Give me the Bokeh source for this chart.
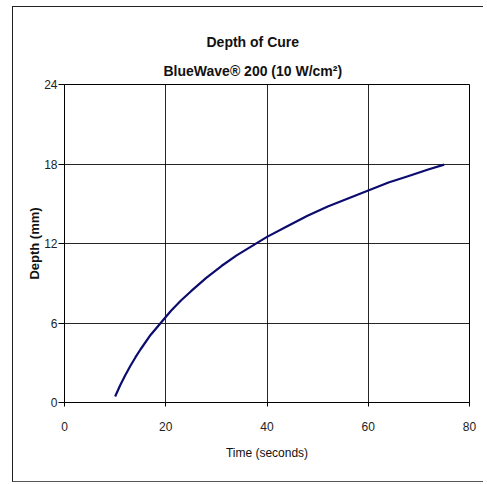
from bokeh.plotting import figure
from bokeh.models import Title, FixedTicker, Range1d
from bokeh.embed import file_html
from bokeh.resources import INLINE

# Data
time_s = [10, 11, 12, 13, 14, 15, 17, 19, 21, 23, 25, 28, 31, 34, 37, 40,
          44, 48, 52, 56, 60, 64, 68, 72, 75]
depth_mm = [0.45, 1.3, 2.05, 2.75, 3.4, 4.0, 5.1, 6.0, 6.9, 7.7, 8.4, 9.4, 10.3, 11.1, 11.8, 12.5,
            13.3, 14.1, 14.8, 15.4, 16.0, 16.6, 17.1, 17.6, 17.95]
x_ticks = [0, 20, 40, 60, 80]
y_ticks = [0, 6, 12, 18, 24]
title_1 = "Depth of Cure"
title_2 = "BlueWave\u00ae 200 (10 W/cm\u00b2)"

FONT = "Liberation Sans"

p = figure(width=471, height=476, output_backend="svg", toolbar_location=None,
           x_range=Range1d(0, 80), y_range=Range1d(0, 24),
           min_border_left=51, min_border_right=15, min_border_top=77, min_border_bottom=81,
           styles={"border-left": "1px solid #222", "border-top": "1px solid #222",
                   "border-bottom": "1px solid #555",
                   "margin-left": "12px", "margin-top": "6px"})

p.outline_line_color = "black"
p.outline_line_width = 1

for ax in (p.xaxis, p.yaxis):
    ax.axis_line_color = "black"
    ax.major_tick_line_color = "black"
    ax.minor_tick_line_color = None
    ax.major_tick_in = 0
    ax.major_label_text_font = FONT
    ax.major_label_text_font_size = "12px"
    ax.major_label_text_color = "#222222"
    ax.axis_label_text_font = FONT
    ax.axis_label_text_color = "#111111"

p.xaxis.ticker = FixedTicker(ticks=x_ticks)
p.yaxis.ticker = FixedTicker(ticks=y_ticks)
p.xaxis.major_tick_out = 4
p.yaxis.major_tick_out = 6
p.xaxis.major_label_standoff = 15
p.yaxis.major_label_standoff = 1
p.xaxis.axis_label = "Time (seconds)"
p.yaxis.axis_label = "Depth (mm)"
p.xaxis.axis_label_text_font_size = "12px"
p.xaxis.axis_label_text_font_style = "normal"
p.yaxis.axis_label_text_font_size = "13px"
p.yaxis.axis_label_text_font_style = "bold"
p.xaxis.axis_label_standoff = 12
p.yaxis.axis_label_standoff = -1

p.xgrid.ticker = FixedTicker(ticks=x_ticks)
p.ygrid.ticker = FixedTicker(ticks=y_ticks)
p.grid.grid_line_color = "black"
p.grid.grid_line_alpha = 0.85
p.grid.grid_line_width = 1

p.line(time_s, depth_mm, line_color="#0c0c6e", line_width=2.2)

# subtitle first (closest to frame), then main title above it
p.add_layout(Title(text=title_2, align="left", offset=99, standoff=11,
                   text_font=FONT, text_font_size="14px", text_font_style="bold",
                   text_color="#111111"), "above")
p.add_layout(Title(text=title_1, align="left", offset=142, standoff=12,
                   text_font=FONT, text_font_size="14px", text_font_style="bold",
                   text_color="#111111"), "above")

open("out.html", "w").write(file_html(p, INLINE))
